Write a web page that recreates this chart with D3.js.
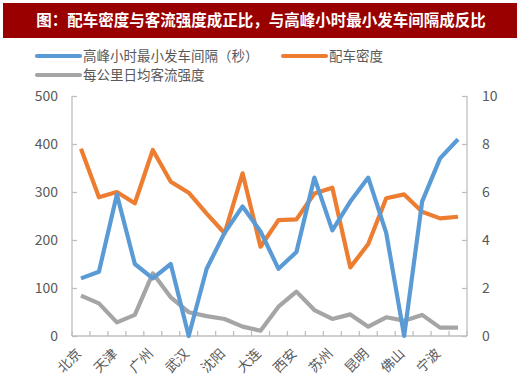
<!DOCTYPE html>
<html><head><meta charset="utf-8">
<script src="https://cdn.jsdelivr.net/npm/d3@7"></script>
<style>body{margin:0;background:#fff;}svg{display:block;}</style>
</head><body>
<svg id="c" width="520" height="382"></svg>
<script>
const titleText = "图：配车密度与客流强度成正比，与高峰小时最小发车间隔成反比";
const seriesNames = ["高峰小时最小发车间隔（秒）", "配车密度", "每公里日均客流强度"];
const cities = ["北京","上海","天津","深圳","广州","南京","武汉","重庆","沈阳","成都","大连","长沙","西安","杭州","苏州","郑州","昆明","青岛","佛山","东莞","宁波","无锡"];
const shownCities = ["北京","天津","广州","武汉","沈阳","大连","西安","苏州","昆明","佛山","宁波"];
const interval = [120,134,295,150,120,150,0,140,215,270,218,140,175,330,220,280,330,215,0,280,370,410];
const density = [7.8,5.78,6.0,5.53,7.75,6.43,5.97,5.1,4.28,6.78,3.72,4.83,4.86,5.94,6.18,2.86,3.83,5.74,5.9,5.18,4.9,4.97];
const intensity = [1.68,1.36,0.57,0.88,2.61,1.61,0.99,0.83,0.71,0.39,0.22,1.22,1.85,1.08,0.71,0.9,0.39,0.78,0.64,0.88,0.35,0.35];
const leftTicks = [0,100,200,300,400,500];
const rightTicks = [0,2,4,6,8,10];
const colors = ["#5b9bd5","#ed7d31","#a5a5a5"];

const svg = d3.select("#c");
const font = "'Noto Sans CJK SC','Noto Sans',sans-serif";
const textColor = "#595959";
const axisColor = "#bfbfbf";

// title bar
svg.append("rect").attr("x",3).attr("y",3).attr("width",514).attr("height",35).attr("fill","#990000");
svg.append("text").attr("x",261).attr("y",26).attr("text-anchor","middle")
  .attr("fill","#fff").attr("font-family",font).attr("font-weight","bold").attr("font-size",15.5)
  .text(titleText);

const L = 72, R = 467, T = 96, B = 336;
const x = d3.scaleBand().domain(cities).range([L,R]);
const yL = d3.scaleLinear().domain([0,500]).range([B,T]);
const yR = d3.scaleLinear().domain([0,10]).range([B,T]);
const cx = c => x(c) + x.bandwidth()/2;

// axes
const gx = svg.append("g").attr("transform",`translate(0,${B})`);
gx.append("line").attr("x1",L).attr("x2",R).attr("stroke",axisColor).attr("stroke-width",1.3);
const bounds = cities.map(c=>x(c)).concat([R]);
gx.selectAll("line.t").data(bounds).enter().append("line")
  .attr("x1",d=>d).attr("x2",d=>d).attr("y1",0).attr("y2",-5).attr("stroke",axisColor).attr("stroke-width",1.3);
gx.selectAll("text").data(shownCities).enter().append("text")
  .attr("transform",d=>`translate(${cx(d)-2},${15}) rotate(-45)`)
  .attr("text-anchor","end").attr("font-family",font).attr("font-size",13.5).attr("fill",textColor)
  .attr("dy","0.35em").text(d=>d);

const axL = d3.axisLeft(yL).tickValues(leftTicks).tickSize(-5).tickPadding(14);
const gl = svg.append("g").attr("transform",`translate(${L},0)`).call(axL);
const axR = d3.axisRight(yR).tickValues(rightTicks).tickSize(-5).tickPadding(15);
const gr = svg.append("g").attr("transform",`translate(${R},0)`).call(axR);
[gl,gr].forEach(g=>{
  g.select(".domain").attr("stroke",axisColor).attr("stroke-width",1.3).attr("d",`M0,${T}V${B}`);
  g.selectAll(".tick line").attr("stroke",axisColor).attr("stroke-width",1.3);
  g.selectAll(".tick text").attr("font-family",font).attr("font-size",14).attr("fill",textColor);
});

const lineL = d3.line().x((d,i)=>cx(cities[i])).y(d=>yL(d));
const lineR = d3.line().x((d,i)=>cx(cities[i])).y(d=>yR(d));
svg.append("path").attr("d",lineR(intensity)).attr("fill","none").attr("stroke",colors[2]).attr("stroke-width",4.2).attr("stroke-linejoin","round");
svg.append("path").attr("d",lineR(density)).attr("fill","none").attr("stroke",colors[1]).attr("stroke-width",4.2).attr("stroke-linejoin","round");
svg.append("path").attr("d",lineL(interval)).attr("fill","none").attr("stroke",colors[0]).attr("stroke-width",4.2).attr("stroke-linejoin","round");

// legend
const leg = [
  {n:seriesNames[0], c:colors[0], x:37, y:56},
  {n:seriesNames[1], c:colors[1], x:283, y:56},
  {n:seriesNames[2], c:colors[2], x:37, y:75}
];
const lg = svg.append("g");
leg.forEach(d=>{
  lg.append("line").attr("x1",d.x).attr("x2",d.x+43).attr("y1",d.y).attr("y2",d.y)
    .attr("stroke",d.c).attr("stroke-width",4.2).attr("stroke-linecap","round");
  lg.append("text").attr("x",d.x+46).attr("y",d.y).attr("dy","0.36em")
    .attr("font-family",font).attr("font-size",13.5).attr("fill",textColor).text(d.n);
});
</script>
</body></html>
